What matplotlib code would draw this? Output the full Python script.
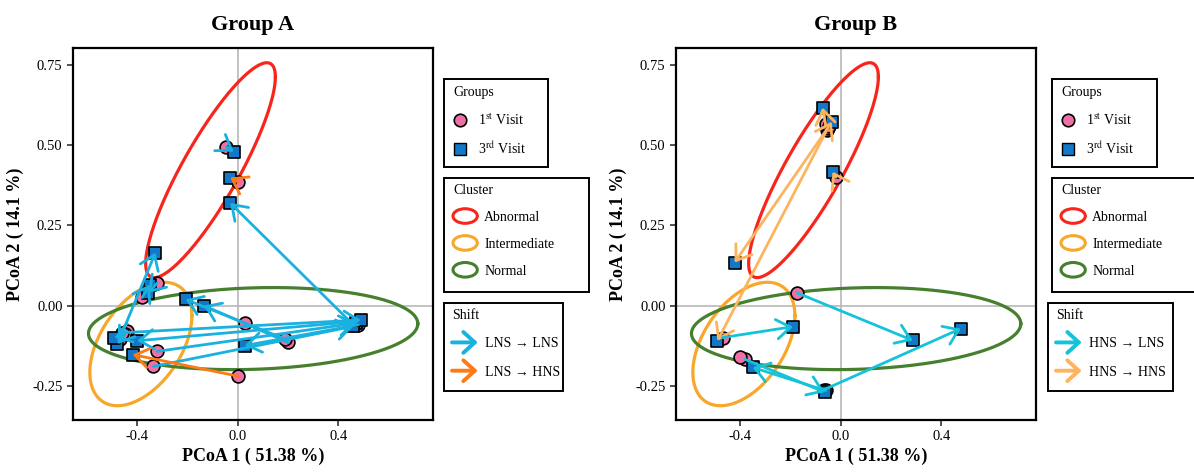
import numpy as np
import matplotlib
matplotlib.use("Agg")
import matplotlib.pyplot as plt
from matplotlib.lines import Line2D
from matplotlib.patches import Ellipse, FancyArrowPatch, Patch, Rectangle
from matplotlib.legend_handler import HandlerPatch

plt.rcParams['font.family'] = ['Liberation Serif', 'DejaVu Serif']
plt.rcParams['mathtext.fontset'] = 'stix'

# ---- data -------------------------------------------------------------
# group A: 1st visit -> 3rd visit, shift type (0 = first shift, 1 = second)
a_x1 = [-0.47, -0.38, -0.32, -0.44, -0.45, -0.32, -0.335, 0.47, 0.46, 0.48, 0.20, 0.19, -0.045, 0.00, 0.00, 0.028, -0.46]
a_y1 = [-0.105, 0.025, 0.07, -0.08, -0.09, -0.143, -0.19, -0.05, -0.06, -0.06, -0.115, -0.105, 0.495, 0.386, -0.22, -0.056, -0.085]
a_x3 = [-0.327, -0.35, -0.355, -0.478, -0.49, 0.47, 0.46, -0.40, -0.03, 0.028, -0.135, -0.207, -0.016, -0.03, -0.418, np.nan, 0.49]
a_y3 = [0.165, 0.065, 0.04, -0.12, -0.10, -0.055, -0.065, -0.11, 0.32, -0.125, 0.0, 0.019, 0.48, 0.399, -0.153, np.nan, -0.045]
a_shift = [0, 0, 0, 0, 0, 0, 0, 0, 0, 0, 0, 0, 0, 1, 1, 0, 0]

# group B
b_x1 = [-0.056, -0.05, -0.47, -0.175, -0.38, -0.065, -0.06, -0.06, -0.045, -0.02, -0.40]
b_y1 = [0.548, 0.555, -0.10, 0.04, -0.168, -0.262, -0.265, 0.565, 0.56, 0.40, -0.16]
b_x3 = [-0.422, -0.49, -0.19, 0.287, -0.064, 0.478, -0.35, -0.072, -0.036, -0.032, np.nan]
b_y3 = [0.134, -0.11, -0.066, -0.109, -0.27, -0.072, -0.193, 0.617, 0.573, 0.417, np.nan]
b_shift = [1, 1, 0, 0, 0, 0, 0, 1, 1, 1, 0]

# cluster ellipses: centre, half extents, correlation
cl_names = ['Abnormal', 'Intermediate', 'Normal']
cl_cx = [-0.108, -0.385, 0.0615]
cl_cy = [0.422, -0.12, -0.072]
cl_sx = [0.258, 0.203, 0.655]
cl_sy = [0.335, 0.1925, 0.128]
cl_rho = [0.868, 0.46, 0.12]
cl_colors = ['#f8251c', '#f7a72a', '#46802f']

pink = '#f06fa6'
blue = '#1478c8'

groups = [
    ('Group A', a_x1, a_y1, a_x3, a_y3, a_shift,
     ['LNS \u2192 LNS', 'LNS \u2192 HNS'], ['#19b1df', '#fd7a17']),
    ('Group B', b_x1, b_y1, b_x3, b_y3, b_shift,
     ['HNS \u2192 LNS', 'HNS \u2192 HNS'], ['#14c3da', '#fdb45e']),
]

W, H = 1194, 475
# legend boxes in pixels: (left, top, right, bottom)
boxes = [
    [(444, 79, 548, 167), (444, 178, 589, 292), (444, 303, 563, 391)],
    [(1052, 79, 1157, 167), (1052, 178, 1197, 292), (1048, 303, 1173, 391)],
]


class HandlerEllipse(HandlerPatch):
    def create_artists(self, legend, orig_handle, xdescent, ydescent,
                       width, height, fontsize, trans):
        center = 0.5 * width - 0.5 * xdescent, 0.5 * height - 0.5 * ydescent
        p = Ellipse(xy=center, width=width + xdescent, height=10.5)
        self.update_prop(p, orig_handle, legend)
        p.set_facecolor('none')
        p.set_transform(trans)
        return [p]


class HandlerArrow(HandlerPatch):
    def create_artists(self, legend, orig_handle, xdescent, ydescent,
                       width, height, fontsize, trans):
        y = 0.5 * height - ydescent
        p = FancyArrowPatch((-xdescent, y), (width - xdescent, y),
                            arrowstyle='->, head_length=0.55, head_width=0.5',
                            mutation_scale=15, lw=2.8,
                            color=orig_handle.get_edgecolor(),
                            shrinkA=0, shrinkB=0)
        p.set_transform(trans)
        return [p]


def px(x, y):
    return x / W, 1 - y / H


fig = plt.figure(figsize=(W / 100, H / 100), dpi=100)
ax_left = [73, 676]
t = np.linspace(0, 2 * np.pi, 300)

for k, (title, x1, y1, x3, y3, shift, shift_labels, shift_colors) in enumerate(groups):
    ax = fig.add_axes([ax_left[k] / W, 55 / H, 360 / W, 372 / H])

    ax.axhline(0, color='#b8b8b8', lw=1.2, zorder=0)
    ax.axvline(0, color='#b8b8b8', lw=1.2, zorder=0)

    for i in range(len(cl_names)):
        sxy = cl_rho[i] * cl_sx[i] * cl_sy[i]
        S = np.array([[cl_sx[i] ** 2, sxy], [sxy, cl_sy[i] ** 2]])
        L = np.linalg.cholesky(S)
        pts = L @ np.vstack([np.cos(t), np.sin(t)])
        ax.plot(cl_cx[i] + pts[0], cl_cy[i] + pts[1], color=cl_colors[i], lw=2.3, zorder=1)

    ax.scatter(x1, y1, s=85, marker='o', facecolor=pink, edgecolor='black', lw=1.2, zorder=2)
    ax.scatter(x3, y3, s=80, marker='s', facecolor=blue, edgecolor='black', lw=1.2, zorder=3)

    for i in range(len(x1)):
        if np.isnan(x3[i]):
            continue
        ax.annotate('', xy=(x3[i], y3[i]), xytext=(x1[i], y1[i]),
                    arrowprops=dict(arrowstyle='->, head_length=0.5, head_width=0.35',
                                    mutation_scale=20, color=shift_colors[shift[i]],
                                    lw=2.0, shrinkA=0, shrinkB=0),
                    zorder=4)

    ax.set_xlim(-0.655, 0.777)
    ax.set_ylim(-0.357, 0.803)
    ax.set_xticks([-0.4, 0.0, 0.4])
    ax.set_yticks([-0.25, 0.0, 0.25, 0.5, 0.75])
    ax.xaxis.set_major_formatter(matplotlib.ticker.FormatStrFormatter('%.1f'))
    ax.yaxis.set_major_formatter(matplotlib.ticker.FormatStrFormatter('%.2f'))
    ax.tick_params(labelsize=10.5, length=4, width=1.2, color='#333333')
    for sp in ax.spines.values():
        sp.set_linewidth(1.6)
    ax.set_title(title, fontsize=16, fontweight='bold', pad=13)
    ax.set_xlabel('PCoA 1 ( 51.38 %)', fontsize=13, fontweight='bold', labelpad=3)
    ax.set_ylabel('PCoA 2 ( 14.1 %)', fontsize=13, fontweight='bold', labelpad=6)

    # legend frames drawn as fixed boxes, contents placed inside
    for (l, tp, r, b) in boxes[k]:
        fig.add_artist(Rectangle(px(l, b), (r - l) / W, (b - tp) / H,
                                 transform=fig.transFigure, facecolor='white',
                                 edgecolor='black', lw=1.4, zorder=5))

    common = dict(loc='upper left', fontsize=10, title_fontsize=10, frameon=False,
                  borderaxespad=0, borderpad=0, alignment='left')

    h1 = [Line2D([], [], ls='', marker='o', ms=9, mfc=pink, mec='black', mew=1.2),
          Line2D([], [], ls='', marker='s', ms=8, mfc=blue, mec='black', mew=1.0)]
    l, tp = boxes[k][0][:2]
    leg1 = fig.legend(h1, ['1$^{\\rm st}$ Visit', '3$^{\\rm rd}$ Visit'], title='Groups',
                      bbox_to_anchor=px(l + 9, tp + 7),
                      labelspacing=0.95, handlelength=1.0, handletextpad=0.8, **common)

    h2 = [Patch(edgecolor=c, facecolor='none', lw=2.2) for c in cl_colors]
    l, tp = boxes[k][1][:2]
    leg2 = fig.legend(h2, cl_names, title='Cluster',
                      bbox_to_anchor=px(l + 9, tp + 6),
                      labelspacing=1.0, handlelength=1.75, handletextpad=0.5,
                      handler_map={Patch: HandlerEllipse()}, **common)

    h3 = [Patch(edgecolor=c, facecolor=c) for c in shift_colors]
    l, tp = boxes[k][2][:2]
    leg3 = fig.legend(h3, shift_labels, title='Shift',
                      bbox_to_anchor=px(l + 8, tp + 6),
                      labelspacing=1.1, handlelength=1.85, handletextpad=0.5,
                      handler_map={Patch: HandlerArrow()}, **common)
    for lg in (leg1, leg2, leg3):
        lg.set_zorder(6)

fig.savefig('out.png', dpi=100)
